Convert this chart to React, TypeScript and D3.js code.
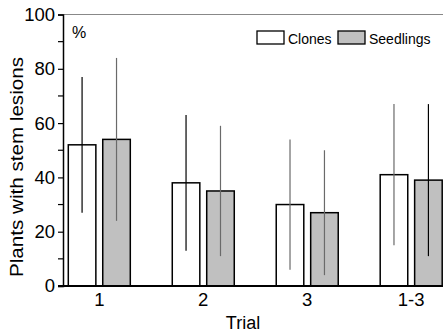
import { useEffect, useRef } from "react"
import * as d3 from "d3"

const trials = ["1", "2", "3", "1-3"]
const series = ["Clones", "Seedlings"]
const clones = [52, 38, 30, 41]
const clonesLo = [27, 13, 6, 15]
const clonesHi = [77, 63, 54, 67]
const seedlings = [54, 35, 27, 39]
const seedlingsLo = [24, 11, 4, 11]
const seedlingsHi = [84, 59, 50, 67]
const yTicks = [0, 20, 40, 60, 80, 100]

const W = 443, H = 334
const FILL: Record<string, string> = { Clones: "#fff", Seedlings: "#c0c0c0" }
const ERR = [["#000", "#6a6a6a"], ["#000", "#6a6a6a"], ["#6a6a6a", "#6a6a6a"], ["#6a6a6a", "#000"]]

export default function App() {
  const ref = useRef<SVGSVGElement>(null)
  useEffect(() => {
    if (!ref.current) return
    const svg = d3.select(ref.current)
    svg.selectAll("*").remove()
    const font = "Liberation Sans, Arial, sans-serif"
    const axX = 63
    const y = d3.scaleLinear().domain([0, 100]).range([286, 14.5])
    const x = d3.scalePoint().domain(trials).range([99.3, 411.2])
    const sub = d3.scaleBand().domain(series).range([-31, 31]).paddingInner(0.2)

    // top frame line
    svg.append("line").attr("x1", axX).attr("x2", W).attr("y1", y(100)).attr("y2", y(100))
      .attr("stroke", "#888").attr("stroke-width", 1.2)

    const rows = trials.map((t, i) => [
      { t, s: "Clones", v: clones[i], lo: clonesLo[i], hi: clonesHi[i], c: ERR[i][0] },
      { t, s: "Seedlings", v: seedlings[i], lo: seedlingsLo[i], hi: seedlingsHi[i], c: ERR[i][1] },
    ]).flat()

    const g = svg.append("g")
    g.selectAll("rect").data(rows).join("rect")
      .attr("x", d => x(d.t)! + sub(d.s)!).attr("width", sub.bandwidth())
      .attr("y", d => y(d.v)).attr("height", d => y(0) - y(d.v))
      .attr("fill", d => FILL[d.s]).attr("stroke", "#000").attr("stroke-width", 1.5)
    g.selectAll("line.err").data(rows).join("line").attr("class", "err")
      .attr("x1", d => x(d.t)! + sub(d.s)! + sub.bandwidth() / 2)
      .attr("x2", d => x(d.t)! + sub(d.s)! + sub.bandwidth() / 2)
      .attr("y1", d => y(d.lo)).attr("y2", d => y(d.hi))
      .attr("stroke", d => d.c).attr("stroke-width", 1.2)

    // y axis
    const ya = svg.append("g").attr("transform", `translate(${axX},0)`)
      .call(d3.axisLeft(y).tickValues(yTicks).tickSize(5).tickPadding(3))
    ya.select(".domain").attr("stroke", "#000").attr("stroke-width", 1.5)
    ya.selectAll("line").attr("stroke", "#000").attr("stroke-width", 1.2)
    ya.selectAll("text").attr("font-family", font).attr("font-size", 18.5).attr("fill", "#000")
    ya.selectAll("line.minor").data(d3.range(10, 100, 20)).join("line").attr("class", "minor")
      .attr("x1", -5).attr("x2", 0).attr("y1", d => y(d)).attr("y2", d => y(d))
      .attr("stroke", "#000").attr("stroke-width", 1.2)

    // x axis
    svg.append("line").attr("x1", axX - 5).attr("x2", W).attr("y1", y(0)).attr("y2", y(0))
      .attr("stroke", "#000").attr("stroke-width", 2)
    svg.append("g").selectAll("text").data(trials).join("text")
      .attr("x", d => x(d)!).attr("y", 306).attr("text-anchor", "middle")
      .attr("font-family", font).attr("font-size", 18.5).text(d => d)

    svg.append("text").attr("x", 243).attr("y", 329).attr("text-anchor", "middle")
      .attr("font-family", font).attr("font-size", 18).text("Trial")
    svg.append("text").attr("transform", `translate(23,167) rotate(-90)`).attr("text-anchor", "middle")
      .attr("font-family", font).attr("font-size", 18).attr("textLength", 220).attr("lengthAdjust", "spacingAndGlyphs")
      .text("Plants with stem lesions")
    svg.append("text").attr("x", 72).attr("y", 38).attr("font-family", font).attr("font-size", 16).text("%")

    // legend
    const lg = svg.append("g")
    const lx = [257, 338]
    series.forEach((s, i) => {
      lg.append("rect").attr("x", lx[i]).attr("y", 31).attr("width", 27).attr("height", 13)
        .attr("fill", FILL[s]).attr("stroke", "#000").attr("stroke-width", 1.3)
      lg.append("text").attr("x", lx[i] + 31).attr("y", 44).attr("font-family", font).attr("font-size", 14).text(s)
    })
  }, [])
  return <svg ref={ref} width={W} height={H} style={{ position: "absolute", left: 0, top: 0, background: "#fff" }} />
}
